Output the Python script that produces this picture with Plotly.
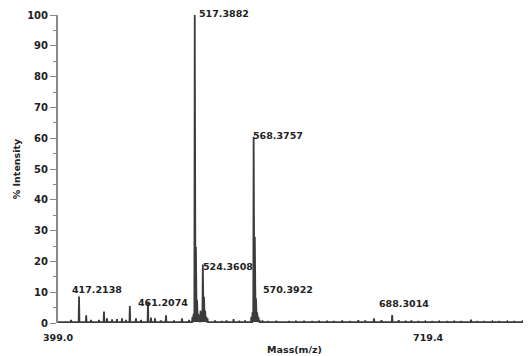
import plotly.graph_objects as go

# Peak list (m/z, % intensity)
peak_mz = [
    410.3, 417.2138, 423.4, 427.6, 434.5, 438.8, 441.4, 445.8, 450.0, 454.4,
    457.9, 461.2074, 466.5, 470.9, 476.9, 479.5, 483.0, 488.0, 492.5, 499.4,
    506.4, 512.5, 515.4, 516.4, 517.3882, 518.39, 519.39, 520.4, 521.4, 522.4,
    523.4, 524.3608, 525.37, 526.37, 527.4, 528.4, 535.0, 541.0, 545.0, 551.0,
    556.0, 561.0, 566.4, 567.4, 568.3757, 569.38, 570.3922, 571.4, 572.4, 573.4,
    576.0, 581.0, 588.0, 593.0, 599.0, 605.0, 612.0, 619.0, 625.0, 632.0,
    638.0, 645.0, 652.0, 659.0, 665.0, 672.6, 679.0, 688.3014, 694.0, 700.0,
    705.0, 711.0, 717.0, 723.0, 729.0, 736.0, 742.0, 748.0, 756.6, 762.0,
    768.0, 775.0, 781.0, 788.0, 794.0, 801.0, 806.0,
]
peak_int = [
    1.0, 8.6, 2.5, 1.0, 1.0, 3.7, 1.5, 1.2, 1.3, 1.5,
    1.0, 5.5, 1.5, 1.0, 7.0, 1.8, 1.5, 0.8, 2.5, 0.8,
    1.5, 1.0, 2.0, 3.0, 100.0, 24.7, 7.5, 3.0, 2.5, 4.0,
    3.0, 19.0, 8.5, 4.0, 2.0, 1.5, 0.8, 0.6, 0.8, 1.3,
    0.7, 0.8, 2.0, 3.5, 60.5, 28.0, 8.0, 3.5, 2.0, 1.0,
    0.8, 0.6, 0.7, 0.5, 0.6, 0.5, 0.7, 0.6, 0.5, 0.7,
    0.6, 0.8, 0.6, 0.9, 0.8, 1.5, 0.9, 2.6, 0.9, 0.7,
    0.8, 0.6, 0.5, 0.6, 0.5, 0.6, 0.7, 0.6, 1.1, 0.6,
    0.6, 0.5, 0.6, 0.5, 0.6, 0.5, 0.5,
]
baseline_level = 0.3

# Labelled peaks
label_mz = [417.2138, 461.2074, 517.3882, 524.3608, 568.3757, 570.3922, 688.3014]
label_int = [8.6, 5.5, 100.0, 19.0, 60.5, 8.0, 2.6]
label_dx = [-9, 6, 2, -2, -3, 5, -15]
label_dy = [0, -4, -6, -10, -6, 1, 4]

x_ticks = [399.0, 719.4]
x_range = [399.0, 808.5]
y_ticks = [0, 10, 20, 30, 40, 50, 60, 70, 80, 90, 100]

# Build the stick profile
xs, ys = [x_range[0]], [baseline_level]
for m, h in zip(peak_mz, peak_int):
    xs += [m - 0.35, m, m + 0.35]
    ys += [baseline_level, h, baseline_level]
xs.append(x_range[1])
ys.append(baseline_level)

fig = go.Figure()
fig.add_trace(go.Scatter(x=xs, y=ys, mode="lines",
                         line=dict(color="#3c3c3c", width=1.8),
                         hoverinfo="skip", showlegend=False, cliponaxis=False))

for m, h, dx, dy in zip(label_mz, label_int, label_dx, label_dy):
    fig.add_annotation(x=m, y=h, text=f"<b>{m:.4f}</b>", showarrow=False,
                       xanchor="left", yanchor="bottom",
                       xshift=dx, yshift=dy,
                       font=dict(family="DejaVu Sans", size=9.5, color="#222"))

fig.update_layout(
    width=523, height=348,
    margin=dict(l=50, r=0, t=7, b=33),
    plot_bgcolor="white", paper_bgcolor="white",
    font=dict(family="DejaVu Sans", size=10, color="#222"),
    xaxis=dict(range=x_range, tickvals=x_ticks,
               ticktext=[f"<b>{v:.1f}</b>" for v in x_ticks],
               showgrid=False, zeroline=False, showline=False,
               ticks="outside", ticklen=6, tickcolor="rgba(0,0,0,0)",
               tickfont=dict(family="DejaVu Sans", size=9.5, color="#222"),
               title=dict(text="<b>Mass(m/z)</b>",
                          font=dict(family="DejaVu Sans", size=9.5, color="#222"),
                          standoff=3),
               automargin=False),
    yaxis=dict(range=[0, 100], tickvals=y_ticks,
               ticktext=[f"<b>{v}</b>" for v in y_ticks],
               showgrid=False, zeroline=False,
               showline=True, linecolor="#888888", linewidth=2,
               ticks="outside", ticklen=6, tickcolor="#888888", tickwidth=1,
               minor=dict(dtick=5, ticks="outside", ticklen=3, tickcolor="#888888"),
               tickfont=dict(family="DejaVu Sans", size=10, color="#222"),
               title=dict(text="<b>% Intensity</b>",
                          font=dict(family="DejaVu Sans", size=9.5, color="#222"),
                          standoff=5),
               automargin=False),
)

fig.write_html("out.html")
